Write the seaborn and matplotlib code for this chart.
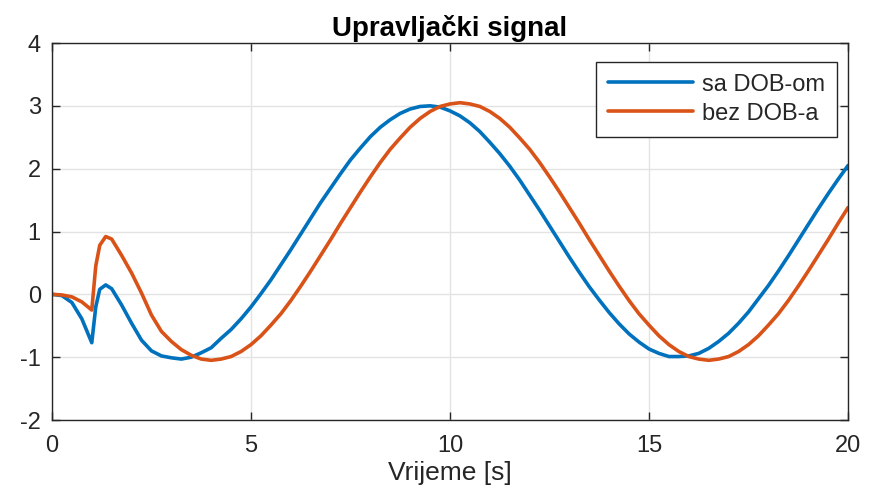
import numpy as np
import pandas as pd
import matplotlib
matplotlib.use("Agg")
import matplotlib.pyplot as plt
import seaborn as sns

# Time samples [s]
t = [0, 0.25, 0.5, 0.75, 1.0, 1.1, 1.2, 1.35, 1.5, 1.75, 2.0, 2.25, 2.5, 2.75,
     3.0, 3.25, 3.5, 3.75,
     4.0, 4.25, 4.5, 4.75, 5.0, 5.25, 5.5, 5.75, 6.0, 6.25, 6.5, 6.75,
     7.0, 7.25, 7.5, 7.75, 8.0, 8.25, 8.5, 8.75, 9.0, 9.25, 9.5, 9.75,
     10.0, 10.25, 10.5, 10.75, 11.0, 11.25, 11.5, 11.75, 12.0, 12.25, 12.5, 12.75,
     13.0, 13.25, 13.5, 13.75, 14.0, 14.25, 14.5, 14.75, 15.0, 15.25, 15.5, 15.75,
     16.0, 16.25, 16.5, 16.75, 17.0, 17.25, 17.5, 17.75, 18.0, 18.25, 18.5, 18.75,
     19.0, 19.25, 19.5, 19.75, 20.0]

# Control signal with disturbance observer
sa_dob = [0, -0.02, -0.13, -0.39, -0.77, -0.20, 0.08, 0.15, 0.09, -0.17, -0.46,
          -0.73, -0.90, -0.98, -1.01, -1.03, -1.00, -0.93,
          -0.85, -0.70, -0.56, -0.39, -0.20, 0.01, 0.23, 0.47, 0.71, 0.96, 1.21, 1.46,
          1.69, 1.92, 2.14, 2.33, 2.51, 2.66, 2.78, 2.88, 2.95, 2.99, 3.00, 2.98,
          2.92, 2.84, 2.73, 2.59, 2.42, 2.24, 2.04, 1.82, 1.58, 1.34, 1.09, 0.84,
          0.59, 0.35, 0.12, -0.09, -0.29, -0.47, -0.63, -0.76, -0.87, -0.94, -0.99, -0.99,
          -0.98, -0.94, -0.86, -0.75, -0.62, -0.46, -0.28, -0.07, 0.14, 0.37, 0.61, 0.86,
          1.11, 1.36, 1.60, 1.83, 2.05]

# Control signal without disturbance observer
bez_dob = [0, -0.01, -0.04, -0.12, -0.25, 0.45, 0.78, 0.92, 0.88, 0.62, 0.34,
           0.02, -0.33, -0.59, -0.75, -0.88, -0.97, -1.03,
           -1.05, -1.03, -0.99, -0.91, -0.80, -0.66, -0.49, -0.31, -0.10, 0.13, 0.37, 0.62,
           0.87, 1.13, 1.38, 1.63, 1.87, 2.10, 2.31, 2.49, 2.66, 2.80, 2.91, 2.99,
           3.03, 3.05, 3.03, 2.99, 2.91, 2.80, 2.66, 2.49, 2.31, 2.10, 1.87, 1.63,
           1.38, 1.13, 0.87, 0.62, 0.37, 0.13, -0.10, -0.31, -0.49, -0.66, -0.80, -0.91,
           -0.99, -1.03, -1.05, -1.03, -0.99, -0.91, -0.80, -0.66, -0.49, -0.31, -0.10, 0.13,
           0.37, 0.62, 0.87, 1.13, 1.38]

labels = ["sa DOB-om", "bez DOB-a"]
colors = ["#0072BD", "#D95319"]
x_ticks = [0, 5, 10, 15, 20]
y_ticks = [-2, -1, 0, 1, 2, 3, 4]

df = pd.DataFrame({
    "t": t + t,
    "u": sa_dob + bez_dob,
    "serija": [labels[0]] * len(t) + [labels[1]] * len(t),
})

sns.set_theme(style="whitegrid")
plt.rcParams["font.family"] = ["Liberation Sans", "DejaVu Sans"]
plt.rcParams["axes.unicode_minus"] = False

fig = plt.figure(figsize=(8.72, 4.96), dpi=100)
ax = fig.add_axes([0.0596, 0.1532, 0.9129, 0.7601])
ax.set_facecolor("white")

sns.lineplot(data=df, x="t", y="u", hue="serija", palette=colors,
             linewidth=2.6, ax=ax, legend=False, sort=False, estimator=None)

ax.set_xlim(0, 20)
ax.set_ylim(-2, 4)
ax.set_xticks(x_ticks)
ax.set_yticks(y_ticks)
ax.set_yticklabels([str(v) for v in y_ticks])
ax.grid(True, color="#e3e3e3", linewidth=1.0)
for s in ax.spines.values():
    s.set_visible(True)
    s.set_color("#262626")
    s.set_linewidth(1.0)
ax.tick_params(axis="both", direction="in", length=6, width=1.0,
               colors="#262626", labelcolor="#262626", labelsize=17,
               top=True, right=True, bottom=True, left=True)
ax.tick_params(axis="x", pad=11)
ax.tick_params(axis="y", pad=8)

ax.set_xlabel("Vrijeme [s]", fontsize=19, color="#262626", labelpad=3)
ax.set_ylabel("")
ax.set_title("Upravljački signal", fontsize=20, fontweight="bold", color="black", pad=5)

handles = [plt.Line2D([], [], color=c, linewidth=2.6) for c in colors]
leg = ax.legend(handles, labels, loc="upper right", bbox_to_anchor=(0.986, 0.95),
                borderaxespad=0.0,
                fontsize=17, handlelength=3.6, handletextpad=0.4, borderpad=0.5,
                labelspacing=0.3, fancybox=False, framealpha=1, edgecolor="#262626")
leg.get_frame().set_linewidth(1.0)

fig.savefig("out.png", dpi=100, facecolor="white")
